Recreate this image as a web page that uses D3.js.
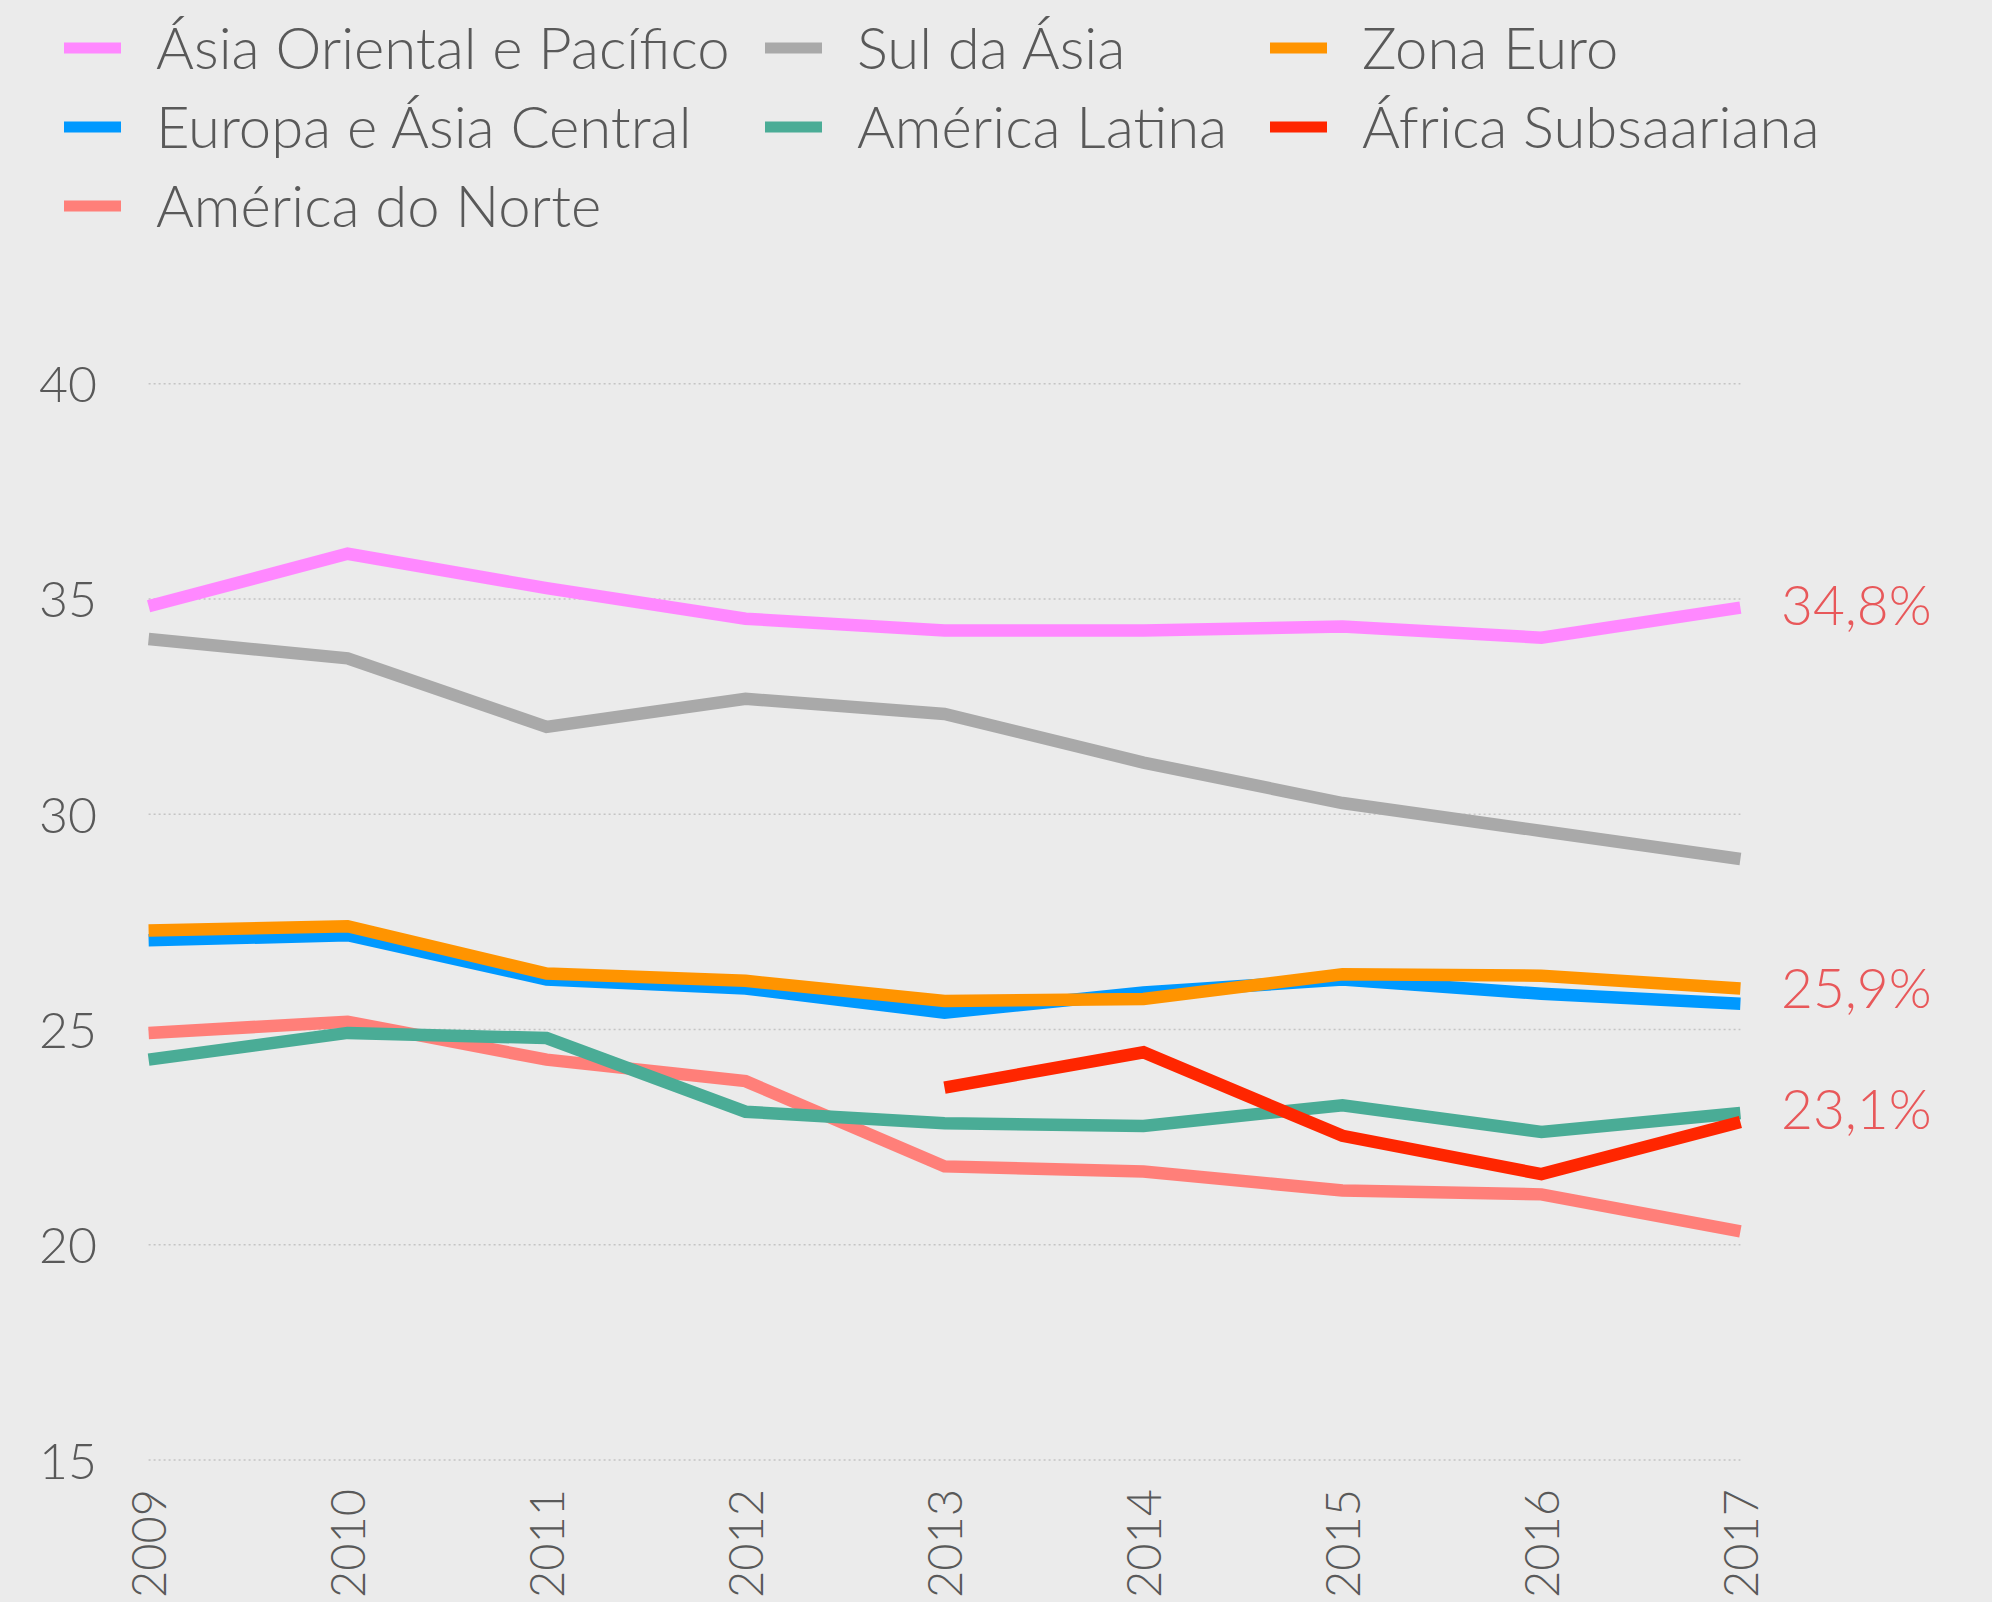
<!DOCTYPE html>
<html><head><meta charset="utf-8">
<script src="https://cdn.jsdelivr.net/npm/d3@7"></script>
<style>
html,body{margin:0;padding:0;background:#ebebeb;}
svg{display:block;}
text{font-family:Lato,"Open Sans",sans-serif;font-weight:300;}
</style></head>
<body>
<script>
const years = [2009,2010,2011,2012,2013,2014,2015,2016,2017];
const seriesNames = ["Ásia Oriental e Pacífico","Sul da Ásia","Zona Euro","Europa e Ásia Central","América Latina","África Subsaariana","América do Norte"];
const seriesColors = ["#ff88ff","#a9a9a9","#ff9400","#0099ff","#4aac96","#ff2600","#ff7f79"];
const asiaOriental = [34.83,36.05,35.25,34.54,34.27,34.27,34.36,34.10,34.80];
const sulAsia = [34.07,33.62,32.03,32.68,32.33,31.20,30.26,29.61,28.96];
const europaAsiaCentral = [27.07,27.19,26.16,25.95,25.39,25.86,26.16,25.83,25.60];
const zonaEuro = [27.30,27.40,26.30,26.13,25.66,25.71,26.28,26.25,25.95];
const americaLatina = [24.30,24.92,24.80,23.09,22.82,22.76,23.24,22.62,23.06];
const africaSub = [null,null,null,null,23.65,24.47,22.53,21.64,22.85];
const americaNorte = [24.92,25.18,24.30,23.80,21.82,21.70,21.26,21.17,20.31];
const yTicks = [15,20,25,30,35,40];
const endLabels = [{text:"34,8%",value:34.85},{text:"25,9%",value:25.95},{text:"23,1%",value:23.15}];

const drawOrder = [
  {name:"Ásia Oriental e Pacífico", values:asiaOriental},
  {name:"Sul da Ásia", values:sulAsia},
  {name:"América do Norte", values:americaNorte},
  {name:"América Latina", values:americaLatina},
  {name:"Europa e Ásia Central", values:europaAsiaCentral},
  {name:"Zona Euro", values:zonaEuro},
  {name:"África Subsaariana", values:africaSub}
];
const legendOrder = ["Ásia Oriental e Pacífico","Sul da Ásia","Zona Euro","Europa e Ásia Central","América Latina","África Subsaariana","América do Norte"];

const W=1992,H=1602;
const color = d3.scaleOrdinal().domain(seriesNames).range(seriesColors);
const svg = d3.select("body").append("svg").attr("width",W).attr("height",H);
svg.append("rect").attr("width",W).attr("height",H).attr("fill","#ebebeb");

const x = d3.scalePoint().domain(years).range([148.6,1740.4]);
const y = d3.scaleLinear().domain([15,40]).range([1460,383.7]);

svg.append("g").selectAll("line").data(yTicks).join("line")
  .attr("x1",148.6).attr("x2",1740.4)
  .attr("y1",d=>y(d)).attr("y2",d=>y(d))
  .attr("stroke","#c4c4c4").attr("stroke-width",1.5).attr("stroke-dasharray","2,3");

const yAxis = svg.append("g").attr("transform","translate(97,0)")
  .call(d3.axisLeft(y).tickValues(yTicks).tickSize(0).tickPadding(0));
yAxis.select(".domain").remove();
yAxis.selectAll("text").attr("fill","#595959").attr("font-size",50).attr("dy","0.36em");

const xAxis = svg.append("g").attr("transform","translate(0,1489)")
  .call(d3.axisBottom(x).tickSize(0).tickPadding(0).tickFormat(d3.format("d")));
xAxis.select(".domain").remove();
xAxis.selectAll("text").attr("fill","#595959").attr("font-size",47)
  .attr("transform","rotate(-90)").attr("text-anchor","end")
  .attr("x",0).attr("y",0).attr("dx",0).attr("dy","0.36em");

const line = d3.line().defined(d=>d.v!=null).x(d=>x(d.year)).y(d=>y(d.v));
svg.append("g").selectAll("path").data(drawOrder).join("path")
  .attr("fill","none").attr("stroke",d=>color(d.name)).attr("stroke-width",12.5)
  .attr("stroke-linejoin","miter")
  .attr("d",d=>line(d.values.map((v,i)=>({year:years[i],v}))));

svg.append("g").selectAll("text").data(endLabels).join("text")
  .attr("x",1781).attr("y",d=>y(d.value)).attr("dy","0.36em")
  .attr("fill","#e8585a").attr("font-size",55).text(d=>d.text);

const colX=[64,765,1270], rowY=[48,127,206];
const lg = svg.append("g").selectAll("g").data(legendOrder).join("g")
  .attr("transform",(d,i)=>`translate(${colX[i%3]},${rowY[Math.floor(i/3)]})`);
lg.append("rect").attr("x",0).attr("y",-5.5).attr("width",57).attr("height",11).attr("fill",d=>color(d));
lg.append("text").attr("x",92).attr("y",0).attr("dy","0.36em").attr("fill","#595959")
  .attr("font-size",58).text(d=>d);
</script>
</body></html>
